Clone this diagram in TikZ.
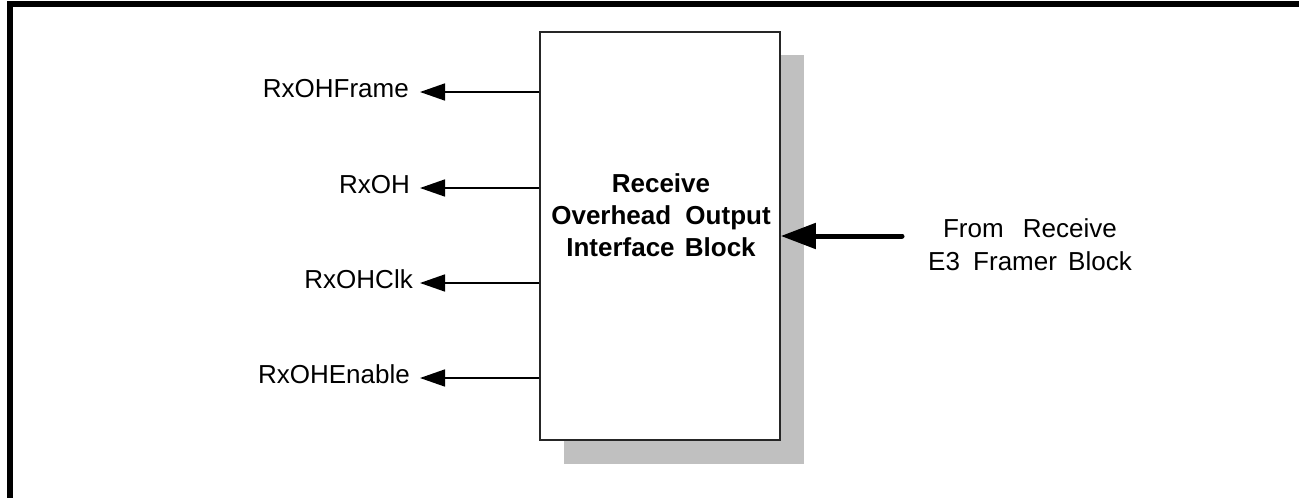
\documentclass[tikz,border=0pt]{standalone}
\usepackage{fontspec}
\setmainfont{Liberation Sans}
\usetikzlibrary{arrows.meta}
\definecolor{shadowgray}{HTML}{C0C0C0}
\tikzset{
  lbl/.style={inner sep=0pt, font=\fontsize{26}{33}\selectfont},
  btxt/.style={inner sep=0pt, align=center, font=\fontsize{26}{32}\selectfont\bfseries},
  blockbox/.style={draw=black!85, line width=1.6pt, fill=white, minimum width=240pt, minimum height=408pt, inner sep=0pt},
  sig/.style={line width=1.6pt, -{Triangle[length=25pt,width=17pt]}},
  bigsig/.style={line width=5pt, line cap=round, -{Triangle[length=35pt,width=25pt]}}
}
\begin{document}
\begin{tikzpicture}[x=1pt,y=-1pt]
\useasboundingbox (0,0) rectangle (1299,498);
% frame
\fill[black] (7,1) rectangle (1299,7);
\fill[black] (7,1) rectangle (13,498);
% shadow and block
\fill[shadowgray] (564,55) rectangle (804,464);
\node[blockbox] (box) at (660,236) {};
\node[btxt] (bt) at (661,215) {Receive\\Overhead\hspace{7pt} Output\\Interface\hspace{3pt} Block};
% left signals
\coordinate (t1) at (420,92);
\coordinate (t2) at (420,188);
\coordinate (t3) at (420,283);
\coordinate (t4) at (420,378);
\node[lbl, anchor=base east] (l1) at (409,97) {RxOHFrame};
\node[lbl, anchor=base east] (l2) at (410,193) {RxOH};
\node[lbl, anchor=base east] (l3) at (413,288) {RxOHClk};
\node[lbl, anchor=base east] (l4) at (410,383) {RxOHEnable};
\draw[sig] (box.west |- t1) -- (t1);
\draw[sig] (box.west |- t2) -- (t2);
\draw[sig] (box.west |- t3) -- (t3);
\draw[sig] (box.west |- t4) -- (t4);
% right input
\coordinate (src) at (902,236);
\draw[bigsig] (src) -- (box.east |- src);
\node[lbl, align=center] (rt) at (1030,245) {From\hspace{12pt} Receive\\E3\hspace{6pt} Framer\hspace{4pt} Block};
\end{tikzpicture}
\end{document}
